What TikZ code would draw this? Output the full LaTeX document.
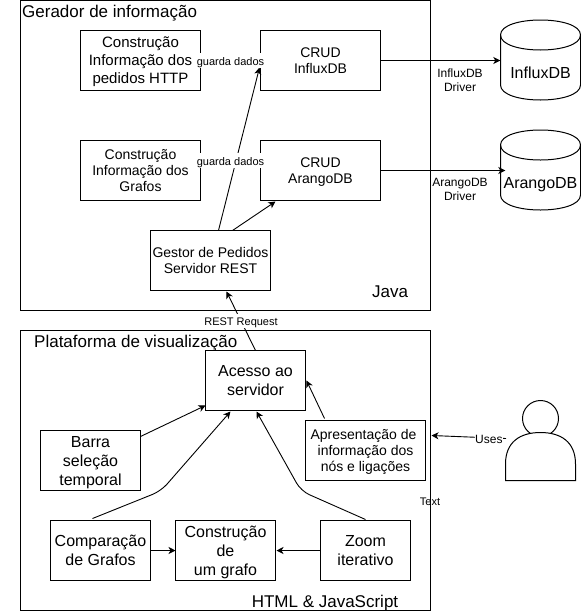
\documentclass[tikz,border=0pt]{standalone}
\usepackage{fontspec}
\setmainfont{Liberation Sans}
\usetikzlibrary{arrows.meta,calc}
\newcommand\topstrut{\rule{0pt}{1.11em}}
\newcommand\botstrut{\rule[-.212em]{0pt}{.212em}}
\newcommand\ft{\rule{0pt}{.905em}}
\tikzset{
  metric/.style={execute at begin node=\topstrut,execute at end node=\botstrut},
  frame/.style={draw=black,line width=1pt,inner sep=0pt,outer sep=0pt},
  fsF/.style={font=\fontsize{14}{16}\selectfont,align=center},
  fsG/.style={font=\fontsize{15}{18}\selectfont,align=center},
  fsH/.style={font=\fontsize{16}{19}\selectfont,align=center},
  boxF/.style={frame,fsF,fill=white,minimum width=#1,minimum height=60pt},
  boxG/.style={frame,fsG,fill=white,minimum width=#1,minimum height=60pt},
  boxH/.style={frame,fsH,fill=white,minimum width=#1,minimum height=60pt},
  title/.style={font=\fontsize{17}{19}\selectfont,inner sep=0pt,metric},
  lab/.style={font=\fontsize{11}{13}\selectfont,fill=white,inner sep=0pt,align=center,metric},
  labplain/.style={font=\fontsize{12}{14}\selectfont,inner sep=0pt,align=center,metric},
  free/.style={font=\fontsize{11}{13}\selectfont,inner sep=0pt,metric},
  link/.style={draw=black,line width=0.9pt,-{Stealth[length=7pt,width=7pt,inset=2pt]}},
  bare/.style={draw=black,line width=1pt},
  dbtext/.style={font=\fontsize{16}{18.4}\selectfont,inner sep=0pt,minimum width=80pt,metric}
}
\begin{document}
\begin{tikzpicture}[x=1pt,y=-1pt]
\useasboundingbox (0,0) rectangle (581,611);
\fill[white] (0,0) rectangle (581,611);
% outer frames
\node[frame,minimum width=410pt,minimum height=310pt] (gen) at (225.5,155.5) {};
\node[frame,minimum width=410pt,minimum height=280pt] (plat) at (225.5,470.5) {};
\node[title,anchor=west] (gentitle) at (22,10) {Gerador de informação};
\node[title,anchor=west] (plattitle) at (34,340) {Plataforma de visualização};
\node[title] (java) at (390,290) {Java};
\node[title] (html) at (325,600) {HTML \& JavaScript};
% inner boxes
\node[boxG=120pt] (http) at (140.5,60.5) {\ft Construção\\Informação dos\\pedidos HTTP\botstrut};
\node[boxF=120pt] (crudi) at (320.5,60.5) {\ft CRUD\\InfluxDB\botstrut};
\node[boxF=120pt] (graf) at (140.5,170.5) {\ft Construção\\Informação dos\\Grafos\botstrut};
\node[boxF=120pt] (cruda) at (320.5,170.5) {\ft CRUD\\ArangoDB\botstrut};
\node[boxF=120pt] (gestor) at (210.5,260.5) {\ft Gestor de Pedidos\\Servidor REST\botstrut};
\node[boxH=100pt] (acesso) at (255.5,380.5) {\ft Acesso ao\\servidor\botstrut};
\node[boxH=100pt] (barra) at (90.5,460.5) {\ft Barra\\seleção\\temporal\botstrut};
\node[boxH=100pt] (comp) at (100.5,550.5) {\ft Comparação\\de Grafos\botstrut};
\node[boxH=100pt] (cons) at (225.5,550.5) {\ft Construção\\de\\um grafo\botstrut};
\node[boxH=90pt] (zoom) at (365.5,550.5) {\ft Zoom\\iterativo\botstrut};
\node[boxF=120pt] (apres) at (365.5,450.5) {\ft Apresentação de\hspace{4pt}\null\\informação dos\\nós e ligações\botstrut};
% databases
\draw[bare,fill=white] (500.5,35) .. controls (500.5,15) and (580.5,15) .. (580.5,35) -- (580.5,85) .. controls (580.5,105) and (500.5,105) .. (500.5,85) -- cycle;
\draw[bare] (500.5,35) .. controls (500.5,55) and (580.5,55) .. (580.5,35);
\node[dbtext] (dbi) at (540.5,71) {InfluxDB};
\draw[bare,fill=white] (500.5,145) .. controls (500.5,125) and (580.5,125) .. (580.5,145) -- (580.5,195) .. controls (580.5,215) and (500.5,215) .. (500.5,195) -- cycle;
\draw[bare] (500.5,145) .. controls (500.5,165) and (580.5,165) .. (580.5,145);
\node[dbtext] (dba) at (540.5,181) {ArangoDB};
% user
\draw[bare,fill=white] (540.5,418.5) circle (18);
\draw[bare,fill=white] (505.5,480.5) -- (505.5,464) .. controls (505.5,442) and (520,432.5) .. (540.5,432.5) .. controls (561,432.5) and (575.5,442) .. (575.5,464) -- (575.5,480.5) -- cycle;
\coordinate (user) at (506,438.5);
% connectors
\draw[link] ($(gestor.north)+(8,0)$) -- ($(crudi.south west)+(-1,-23)$);
\draw[link] ($(gestor.north)+(22,0)$) -- ($(cruda.south west)+(15,1)$);
\draw[bare] ($(http.east)+(0,0)$) -- node[lab]{guarda dados} (crudi.west);
\draw[bare] ($(graf.east)+(0,-10)$) -- node[lab]{guarda dados} ($(cruda.west)+(0,-10)$);
\draw[link] (crudi.east) -- (crudi.east -| dbi.west);
\draw[link] (cruda.east) -- ($(cruda.east -| dba.west)+(5,0)$);
\draw[link] (acesso.north) -- node[lab,pos=0.5]{REST Request} ($(gestor.south)+(16,1)$);
\draw[link] ($(barra.north east)+(0,6)$) -- ($(acesso.south west)+(0,-5)$);
\draw[link,rounded corners=9pt] ($(comp.north)+(-8,-2)$) -- (161,491) -- ($(acesso.south)+(-25,1)$);
\draw[link,rounded corners=9pt] ($(zoom.north)+(0,-1)$) -- (301,491) -- ($(acesso.south)+(1,1)$);
\draw[link] ($(apres.north west)+(19,-2)$) -- ($(acesso.east)+(1,0)$);
\draw[link] (comp.east) -- (cons.west);
\draw[link] (zoom.west) -- ($(cons.east)+(1,0)$);
\draw[link] (user) -- node[lab,pos=0.23,font=\fontsize{12}{14}\selectfont]{Uses} ($(apres.east)+(6,-15)$);
% free labels
\node[labplain] (drvi) at (460,81) {InfluxDB\\Driver};
\node[labplain] (drva) at (460,191) {ArangoDB\\Driver};
\node[free] (txt) at (430,501) {Text};
\end{tikzpicture}
\end{document}
